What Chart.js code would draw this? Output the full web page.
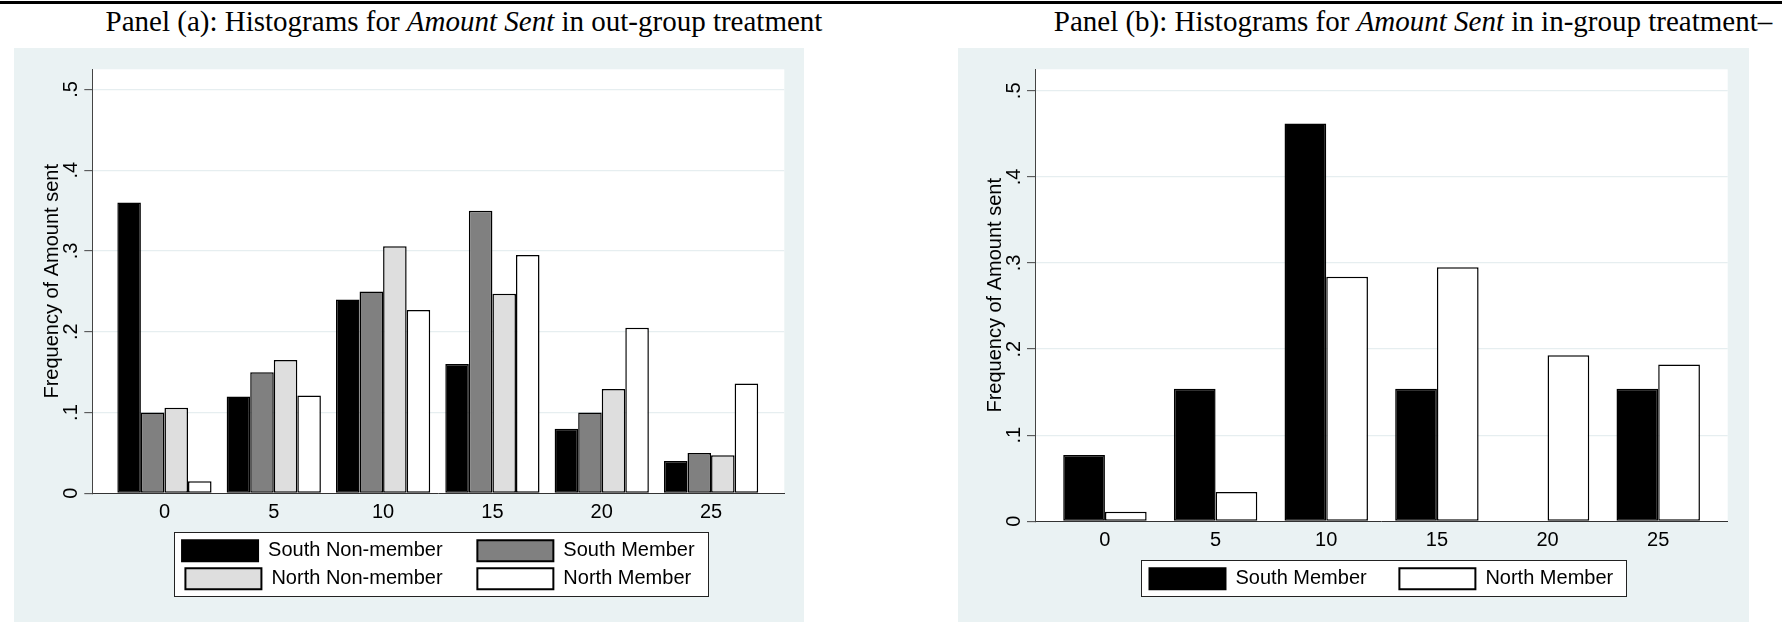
<!DOCTYPE html>
<html>
<head>
<meta charset="utf-8">
<script src="https://cdn.jsdelivr.net/npm/chart.js@4.4.1/dist/chart.umd.min.js"></script>
<style>
  html, body { margin: 0; padding: 0; background: #fff; overflow: hidden; }
  body { width: 1782px; height: 622px; position: relative; }
  .rule { position: absolute; left: 0; top: 1px; width: 1782px; height: 3px; background: #000; }
  .title {
    position: absolute; top: 7px; width: 1000px; text-align: center;
    font-family: "Liberation Serif", "Times New Roman", serif; font-size: 29px; line-height: 29px;
    color: #000; white-space: nowrap;
  }
  .title i { font-family: "Liberation Serif", "Times New Roman", serif; font-style: italic; }
  .panel { position: absolute; top: 48px; height: 574px; background: #eaf2f3; }
  .panel canvas { display: block; }
</style>
</head>
<body>
<div class="rule"></div>
<div class="title" style="left:-36px">Panel (a): Histograms for <i>Amount Sent</i> in out-group treatment</div>
<div class="title" style="left:913px">Panel (b): Histograms for <i>Amount Sent</i> in in-group treatment–</div>
<div class="panel" style="left:14px;width:790px"><canvas id="chartOut" width="790" height="574"></canvas></div>
<div class="panel" style="left:958px;width:791px"><canvas id="chartIn" width="791" height="574"></canvas></div>

<script>
// Amount sent categories and tick labels
const amounts = [0, 5, 10, 15, 20, 25];
const amountLabels = ['0', '5', '10', '15', '20', '25'];
const freqTicks = [0, 0.1, 0.2, 0.3, 0.4, 0.5];
const freqTickLabels = ['0', '.1', '.2', '.3', '.4', '.5'];
const yTitle = 'Frequency of Amount sent';

// Out-group treatment: share of subjects sending each amount
const outNames = ['South Non-member', 'South Member', 'North Non-member', 'North Member'];
const outSouthNonMember = [0.36, 0.12, 0.24, 0.16, 0.08, 0.04];
const outSouthMember    = [0.10, 0.15, 0.25, 0.35, 0.10, 0.05];
const outNorthNonMember = [0.106, 0.165, 0.306, 0.247, 0.129, 0.047];
const outNorthMember    = [0.015, 0.121, 0.227, 0.295, 0.205, 0.136];

// In-group treatment
const inNames = ['South Member', 'North Member'];
const inSouthMember = [0.077, 0.154, 0.462, 0.154, 0, 0.154];
const inNorthMember = [0.011, 0.034, 0.284, 0.295, 0.193, 0.182];

// Bar fills per series
const outFills = ['#000000', '#808080', '#dedede', '#ffffff'];
const inFills = ['#000000', '#ffffff'];

const FONT = { family: '"Liberation Sans", Arial, sans-serif', size: 20 };

// White plot region and framed legend box
const panelDecor = {
  id: 'panelDecor',
  beforeDraw(chart) {
    const { ctx, chartArea: a } = chart;
    ctx.save();
    ctx.fillStyle = '#ffffff';
    ctx.fillRect(a.left, a.top, a.right - a.left, a.bottom - a.top);
    const lg = chart.legend;
    if (lg && lg.legendHitBoxes && lg.legendHitBoxes.length) {
      const boxes = lg.legendHitBoxes;
      const ext = chart.options.plugins.panelDecor;
      let l = Infinity, t = Infinity, r = -Infinity, b = -Infinity;
      boxes.forEach((h, i) => {
        l = Math.min(l, h.left);
        t = Math.min(t, h.top);
        r = Math.max(r, h.left + h.width - (ext.trailing[i] || 0));
        b = Math.max(b, h.top + h.height);
      });
      l = Math.round(l - 8) + 0.5; t = Math.round(t - 8) + 0.5;
      r = Math.round(r + 13) + 0.5; b = Math.round(b + 7) + 0.5;
      ctx.fillRect(l, t, r - l, b - t);
      ctx.strokeStyle = '#222';
      ctx.lineWidth = 1;
      ctx.strokeRect(l, t, r - l, b - t);
    }
    ctx.restore();
  }
};

function makePanel(id, names, series, fills, cfg) {
  const gap = ' '.repeat(cfg.spaces);
  const spaceW = (() => {
    const c = document.createElement('canvas').getContext('2d');
    c.font = FONT.size + 'px ' + FONT.family;
    return c.measureText(gap).width;
  })();
  const trailing = names.map((n, i) => cfg.gapAfter.includes(i) ? spaceW : 0);

  const datasets = names.map((name, i) => ({
    label: name,
    data: amounts.map((a, k) => ({ x: a, y: series[i][k] })),
    backgroundColor: fills[i],
    borderColor: '#000',
    borderWidth: c => (c.raw && c.raw.y === 0 ? 0 : 1.5),
    borderSkipped: false,
    inflateAmount: 0,
    categoryPercentage: cfg.groupShare,
    barPercentage: 1
  }));

  return new Chart(document.getElementById(id), {
    type: 'bar',
    data: { datasets },
    options: {
      responsive: false,
      animation: false,
      devicePixelRatio: 1,
      layout: { padding: { top: 21.3, right: cfg.padRight, bottom: 22.7, left: 0 } },
      scales: {
        x: {
          type: 'linear',
          min: cfg.xMin, max: cfg.xMax,
          offset: false,
          afterBuildTicks: s => { s.ticks = amounts.map(v => ({ value: v })); },
          afterFit: s => { s.height = cfg.xHeight; },
          ticks: {
            autoSkip: false, maxRotation: 0, padding: 7, color: '#000', font: FONT,
            callback: (v, i) => amountLabels[i]
          },
          grid: { display: false, drawTicks: false, offset: false },
          border: { display: true, color: '#333', width: 1 }
        },
        y: {
          min: 0, max: 0.525,
          afterBuildTicks: s => { s.ticks = freqTicks.map(v => ({ value: v })); },
          afterFit: s => { s.width = cfg.yWidth; },
          ticks: {
            minRotation: 90, maxRotation: 90, crossAlign: 'center', padding: 4.3,
            color: '#000', font: FONT,
            callback: (v, i) => freqTickLabels[i]
          },
          grid: {
            color: c => (c.index === 0 ? 'rgba(0,0,0,0)' : '#e6eef0'),
            lineWidth: 1.3,
            drawTicks: true, tickLength: 8, tickColor: '#444', tickWidth: 1
          },
          border: { display: true, color: '#444', width: 1 },
          title: { display: true, text: yTitle, color: '#000', font: FONT, padding: { top: cfg.titlePad, bottom: 0 } }
        }
      },
      plugins: {
        tooltip: { enabled: false },
        panelDecor: { trailing },
        legend: {
          display: true, position: 'bottom', fullSize: false, align: 'center',
          labels: {
            boxWidth: 76, boxHeight: 21, padding: cfg.legendPad, color: '#000', font: FONT,
            generateLabels: chart => chart.data.datasets.map((ds, i) => ({
              text: ds.label + (cfg.gapAfter.includes(i) ? gap : ''),
              fillStyle: ds.backgroundColor,
              strokeStyle: '#000',
              lineWidth: 2,
              hidden: false,
              datasetIndex: i
            }))
          }
        }
      }
    },
    plugins: [panelDecor]
  });
}

makePanel('chartOut', outNames,
  [outSouthNonMember, outSouthMember, outNorthNonMember, outNorthMember], outFills,
  { xMin: -3.3, xMax: 28.35, groupShare: 0.862, padRight: 19.7, yWidth: 78.3, titlePad: 26.3,
    xHeight: 40, legendPad: 7, spaces: 5, gapAfter: [0, 2] });

makePanel('chartIn', inNames,
  [inSouthMember, inNorthMember], inFills,
  { xMin: -3.16, xMax: 28.14, groupShare: 0.754, padRight: 21.3, yWidth: 77, titlePad: 25,
    xHeight: 36.5, legendPad: 10.5, spaces: 4, gapAfter: [0] });
</script>
</body>
</html>
